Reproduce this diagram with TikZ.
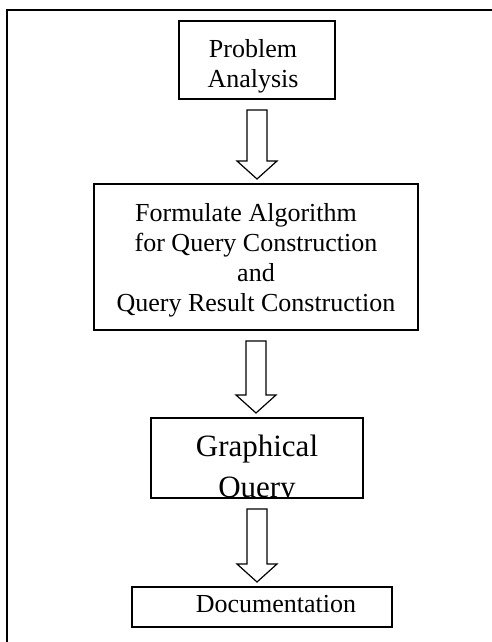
\documentclass[tikz,border=0pt]{standalone}
\usepackage{fontspec}
\setmainfont{Liberation Serif}

\begin{document}
\begin{tikzpicture}[x=1pt, y=1pt, line width=1.2pt, inner sep=0, outer sep=0,
  flowbox/.style={rectangle, draw=black, fill=white},
  flowtext/.style={align=center, font=\fontsize{26}{30}\selectfont}]
  \useasboundingbox (0,0) rectangle (492,-642);
  \draw[line width=2pt] (492,-10.5) -- (6.5,-10.5) -- (6.5,-642);

  \node[flowbox,
    minimum height = 78pt,
    minimum width = 156pt] (box1) at (257,-60) {};
  \node[flowtext] (box1-text) at ([xshift=-4pt, yshift=-6pt]box1.center) {Problem\\Analysis};

  \node[flowbox,
    minimum height = 146pt,
    minimum width = 324pt] (box2) at (256,-257) {};
  \node[flowtext] (box2-text) at ([yshift=-3.6pt]box2.center) {Formulate Algorithm\hspace*{20pt}\\for Query Construction\\and\\Query Result Construction};

  \node[flowbox,
    minimum height = 80pt,
    minimum width = 212pt] (box3) at (257,-458) {};
  \begin{scope}
    \clip (box3.south west) rectangle (box3.north east);
    \node[flowtext, font=\fontsize{31}{41}\selectfont] (box3-text) at ([yshift=-12pt]box3.center) {Graphical\\Query};
  \end{scope}

  \node[flowbox,
    minimum height = 40pt,
    minimum width = 260pt] (box4) at (262,-607) {};
  \node[flowtext] (box4-text) at ([xshift=14pt, yshift=2.6pt]box4.center) {Documentation};

  \coordinate (tip1) at (box1.south |- box2.north);
  \coordinate (tip2) at (box2.south |- box3.north);
  \coordinate (tip3) at (box3.south |- box4.north);

  \draw ([xshift=-10pt, yshift=-11pt]box1.south) -- ([xshift=-10pt, yshift=23pt]tip1) -- ([xshift=-20pt, yshift=23pt]tip1) -- ([yshift=5pt]tip1)
    -- ([xshift=20pt, yshift=23pt]tip1) -- ([xshift=10pt, yshift=23pt]tip1) -- ([xshift=10pt, yshift=-11pt]box1.south) -- cycle;
  \draw ([xshift=-10pt, yshift=-11pt]box2.south) -- ([xshift=-10pt, yshift=23pt]tip2) -- ([xshift=-20pt, yshift=23pt]tip2) -- ([yshift=5pt]tip2)
    -- ([xshift=20pt, yshift=23pt]tip2) -- ([xshift=10pt, yshift=23pt]tip2) -- ([xshift=10pt, yshift=-11pt]box2.south) -- cycle;
  \draw ([xshift=-10pt, yshift=-11pt]box3.south) -- ([xshift=-10pt, yshift=23pt]tip3) -- ([xshift=-20pt, yshift=23pt]tip3) -- ([yshift=5pt]tip3)
    -- ([xshift=20pt, yshift=23pt]tip3) -- ([xshift=10pt, yshift=23pt]tip3) -- ([xshift=10pt, yshift=-11pt]box3.south) -- cycle;
\end{tikzpicture}
\end{document}
